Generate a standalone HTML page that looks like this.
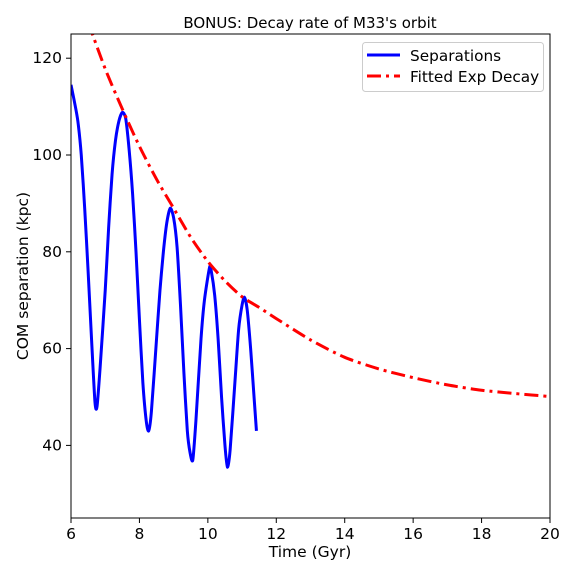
<!DOCTYPE html>
<html><head><meta charset="utf-8"><style>
body{margin:0;background:#fff;}
svg text{font-family:"DejaVu Sans","Liberation Sans",sans-serif;fill:#000;}
</style></head><body>
<svg id="c" width="576" height="576" xmlns="http://www.w3.org/2000/svg">
<defs><clipPath id="clip"><rect x="71" y="34" width="479" height="484"/></clipPath></defs>
<rect x="0" y="0" width="576" height="576" fill="#fff"/>
<g id="plot" clip-path="url(#clip)"></g>
<rect x="71" y="34" width="479" height="484" fill="none" stroke="#000" stroke-width="1"/>
<g id="axes"></g>
<text x="310" y="28" font-size="15" text-anchor="middle">BONUS: Decay rate of M33's orbit</text>
<text x="310" y="557" font-size="15.5" text-anchor="middle">Time (Gyr)</text>
<text x="28" y="276" font-size="15.5" text-anchor="middle" transform="rotate(-90 28 276)">COM separation (kpc)</text>
<g>
<rect x="362.5" y="42.5" width="181" height="49" rx="3" fill="#fff" fill-opacity="0.8" stroke="#ccc"/>
<line x1="367" y1="55" x2="400" y2="55" stroke="#0000ff" stroke-width="3"/>
<text x="410" y="61" font-size="15.3">Separations</text>
<line x1="367" y1="76" x2="400" y2="76" stroke="#ff0000" stroke-width="3" stroke-dasharray="14 5 3 5"/>
<text x="410" y="82" font-size="15.3">Fitted Exp Decay</text>
</g>
</svg>
<script>
const sepTimes=[6.0,6.1,6.2,6.3,6.4,6.5,6.6,6.7,6.76,6.85,7.0,7.1,7.2,7.3,7.4,7.5,7.6,7.7,7.8,7.9,8.0,8.1,8.2,8.27,8.35,8.5,8.6,8.7,8.8,8.9,9.0,9.1,9.2,9.3,9.4,9.48,9.56,9.65,9.8,9.9,10.05,10.1,10.2,10.3,10.4,10.5,10.57,10.65,10.8,10.9,11.0,11.07,11.15,11.25,11.35,11.42];
const sepValues=[114.5,111,107,100,89,76,62,49,48,56,72,85,96,103,107,108.8,107.5,101,92,80,66,53,45,43,47,62,72,80,86,89,87,81,69,55,43,38.5,37,45,62,70,76.8,76,71,62,50,40,35.5,39,54,64,69,70.6,68,60,50,43];
const fitTimes=[6,6.5,7,7.5,8,8.5,9,9.5,10,10.5,11,11.5,12,13,14,15,16,17,18,19,20];
const fitValues=[138,127.5,117.8,109.5,101.8,95,89,83,78,74,70.7,68.5,66.2,61.8,58.2,55.8,54,52.5,51.4,50.7,50.1];
const xTicks=[6,8,10,12,14,16,18,20];
const yTicks=[40,60,80,100,120];
const X=t=>71+(t-6)/14*479, Y=v=>518-(v-25)/100*484;
const NS='http://www.w3.org/2000/svg';
function path(ts,vs){let p='';for(let i=0;i<ts.length;i++){const x=X(ts[i]),y=Y(vs[i]);if(i==0){p+='M'+x+' '+y;continue;}
const i0=Math.max(0,i-2),i1=i-1,i3=Math.min(ts.length-1,i+1);
const x0=X(ts[i0]),y0=Y(vs[i0]),x1=X(ts[i1]),y1=Y(vs[i1]),x3=X(ts[i3]),y3=Y(vs[i3]);
p+=` C${x1+(x-x0)/8} ${y1+(y-y0)/8} ${x-(x3-x1)/8} ${y-(y3-y1)/8} ${x} ${y}`;}return p;}
const plot=document.getElementById('plot'),axes=document.getElementById('axes');
const s=document.createElementNS(NS,'path');s.setAttribute('d',path(sepTimes,sepValues));s.setAttribute('fill','none');s.setAttribute('stroke','#0000ff');s.setAttribute('stroke-width','3');s.setAttribute('stroke-linejoin','round');


plot.appendChild(s);
const f=document.createElementNS(NS,'path');f.setAttribute('d',path(fitTimes,fitValues));f.setAttribute('fill','none');f.setAttribute('stroke','#ff0000');f.setAttribute('stroke-width','3');f.setAttribute('stroke-dasharray','14 5 3 5');


plot.appendChild(f);
xTicks.forEach(t=>{const l=document.createElementNS(NS,'line');l.setAttribute('x1',X(t));l.setAttribute('x2',X(t));l.setAttribute('y1',518);l.setAttribute('y2',523);l.setAttribute('stroke','#000');


axes.appendChild(l);
const tx=document.createElementNS(NS,'text');tx.setAttribute('x',X(t));tx.setAttribute('y',539);tx.setAttribute('font-size','15.5');tx.setAttribute('text-anchor','middle');tx.textContent=t;


axes.appendChild(tx);});
yTicks.forEach(v=>{const l=document.createElementNS(NS,'line');l.setAttribute('x1',66);l.setAttribute('x2',71);l.setAttribute('y1',Y(v));l.setAttribute('y2',Y(v));l.setAttribute('stroke','#000');


axes.appendChild(l);
const tx=document.createElementNS(NS,'text');tx.setAttribute('x',62);tx.setAttribute('y',Y(v)+5);tx.setAttribute('font-size','15.5');tx.setAttribute('text-anchor','end');tx.textContent=v;


axes.appendChild(tx);});
</script>
</body></html>
